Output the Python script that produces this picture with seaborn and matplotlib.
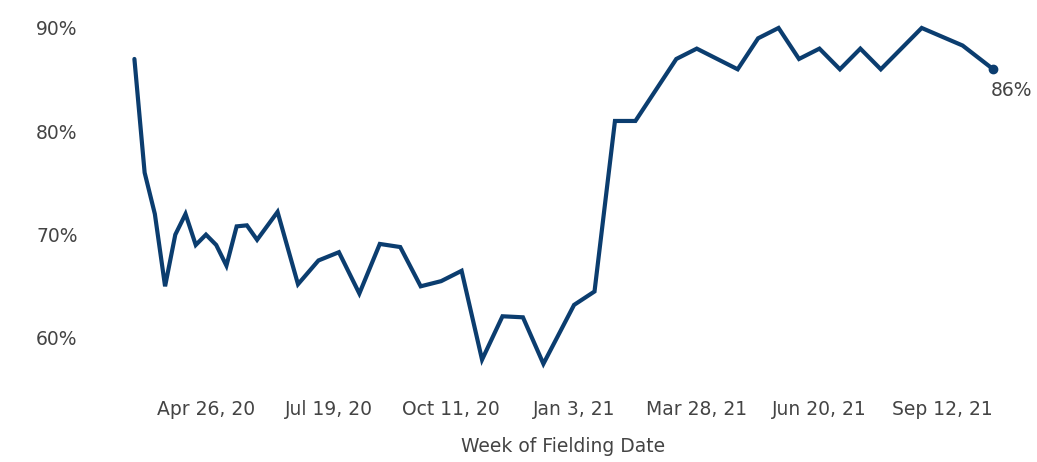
import datetime as dt
import pandas as pd
import matplotlib
matplotlib.use("Agg")
import matplotlib.pyplot as plt
import matplotlib.dates as mdates
import seaborn as sns

# weekly fielding dates and share (%)
week_dates = [
    "2020-03-08", "2020-03-15", "2020-03-22", "2020-03-29", "2020-04-05",
    "2020-04-12", "2020-04-19", "2020-04-26", "2020-05-03", "2020-05-10",
    "2020-05-17", "2020-05-24", "2020-05-31", "2020-06-14", "2020-06-28",
    "2020-07-12", "2020-07-26", "2020-08-09", "2020-08-23", "2020-09-06",
    "2020-09-20", "2020-10-04", "2020-10-18", "2020-11-01", "2020-11-15",
    "2020-11-29", "2020-12-13", "2021-01-03", "2021-01-17", "2021-01-31",
    "2021-02-14", "2021-03-14", "2021-03-28", "2021-04-25", "2021-05-09",
    "2021-05-23", "2021-06-06", "2021-06-20", "2021-07-04", "2021-07-18",
    "2021-08-01", "2021-08-29", "2021-09-26", "2021-10-17",
]
share = [
    87, 76, 72, 65, 70,
    72, 69, 70, 69, 67,
    70.8, 70.9, 69.5, 72.2, 65.2,
    67.5, 68.3, 64.3, 69.1, 68.8,
    65.0, 65.5, 66.5, 57.9, 62.1,
    62.0, 57.5, 63.2, 64.5, 81,
    81, 87, 88, 86, 89,
    90, 87, 88, 86, 88,
    86, 90, 88.3, 86,
]

# axis ticks
x_tick_dates = ["2020-04-26", "2020-07-19", "2020-10-11", "2021-01-03",
                "2021-03-28", "2021-06-20", "2021-09-12"]
x_tick_labels = ["Apr 26, 20", "Jul 19, 20", "Oct 11, 20", "Jan 3, 21",
                 "Mar 28, 21", "Jun 20, 21", "Sep 12, 21"]
y_ticks = [60, 70, 80, 90]
y_tick_labels = ["60%", "70%", "80%", "90%"]

df = pd.DataFrame({"week": pd.to_datetime(week_dates), "share": share})

line_color = "#0b3d6f"
text_color = "#444444"

sns.set_style("white")
plt.rcParams["font.family"] = ["DejaVu Sans"]

fig = plt.figure(figsize=(10.37, 4.62), dpi=100)
W, H = 1037, 462
ax = fig.add_axes([90 / W, (H - 385) / H, 910 / W, 365 / H])

sns.lineplot(data=df, x="week", y="share", ax=ax, color=line_color,
             linewidth=3, solid_joinstyle="miter")

# end point marker + label
last = df.iloc[-1]
ax.plot([last["week"]], [last["share"]], "o", color=line_color, markersize=6)
ax.annotate(f"{last['share']:.0f}%", (last["week"], last["share"]),
            xytext=(-2, -15), textcoords="offset points",
            ha="left", va="center", fontsize=13.5, color=text_color,
            annotation_clip=False)

# axis limits from reference layout
base = pd.Timestamp("2020-04-26")
ax.set_xlim(base + pd.Timedelta(days=-79.4), base + pd.Timedelta(days=543.6))
ax.set_ylim(55.45, 90.77)

ax.set_xticks(pd.to_datetime(x_tick_dates))
ax.set_xticklabels(x_tick_labels)
ax.set_yticks(y_ticks)
ax.set_yticklabels(y_tick_labels)

ax.tick_params(axis="both", labelsize=13.5, labelcolor=text_color,
               color="#e8e8e8", length=5, width=1, direction="out")
ax.tick_params(axis="x", pad=6)
ax.tick_params(axis="y", pad=4, length=5)

for s in ax.spines.values():
    s.set_visible(False)

ax.set_ylabel("")
ax.set_xlabel("Week of Fielding Date", fontsize=13.5, color=text_color)
ax.xaxis.set_label_coords((563 - 90) / 910, -(437 - 385) / 365)

fig.savefig("out.png", dpi=100)
